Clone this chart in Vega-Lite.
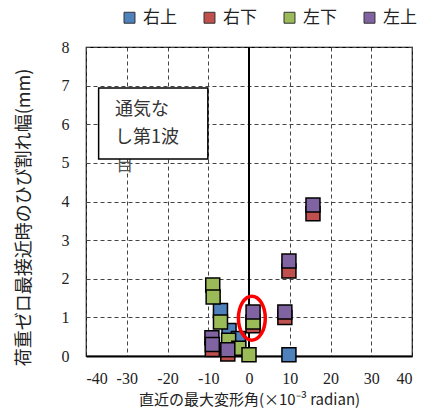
{
  "$schema": "https://vega.github.io/schema/vega-lite/v6.json",
  "width": 326,
  "height": 309,
  "autosize": {"type": "none"},
  "padding": {"left": 86, "top": 47, "right": 15, "bottom": 64},
  "background": "white",
  "datasets": {
    "pts": [
      {"dir": "右上", "ord": 1, "angle": 9.8, "width": 0.03},
      {"dir": "右上", "ord": 1, "angle": -7.0, "width": 1.18},
      {"dir": "右上", "ord": 1, "angle": -4.9, "width": 0.66},
      {"dir": "右上", "ord": 1, "angle": -2.6, "width": 0.45},
      {"dir": "右下", "ord": 2, "angle": 15.7, "width": 3.68},
      {"dir": "右下", "ord": 2, "angle": 9.8, "width": 2.2},
      {"dir": "右下", "ord": 2, "angle": 8.8, "width": 1.0},
      {"dir": "右下", "ord": 2, "angle": 1.0, "width": 0.78},
      {"dir": "右下", "ord": 2, "angle": -9.0, "width": 0.17},
      {"dir": "右下", "ord": 2, "angle": -5.2, "width": 0.05},
      {"dir": "左下", "ord": 3, "angle": -8.9, "width": 1.84},
      {"dir": "左下", "ord": 3, "angle": -8.8, "width": 1.53},
      {"dir": "左下", "ord": 3, "angle": -7.0, "width": 0.88},
      {"dir": "左下", "ord": 3, "angle": -5.0, "width": 0.41},
      {"dir": "左下", "ord": 3, "angle": -2.5, "width": 0.2},
      {"dir": "左下", "ord": 3, "angle": 0.0, "width": 0.03},
      {"dir": "左下", "ord": 3, "angle": 1.0, "width": 0.88},
      {"dir": "左上", "ord": 4, "angle": 15.7, "width": 3.91},
      {"dir": "左上", "ord": 4, "angle": 9.8, "width": 2.46},
      {"dir": "左上", "ord": 4, "angle": 8.8, "width": 1.14},
      {"dir": "左上", "ord": 4, "angle": 1.0, "width": 1.14},
      {"dir": "左上", "ord": 4, "angle": -9.1, "width": 0.47},
      {"dir": "左上", "ord": 4, "angle": -9.0, "width": 0.3},
      {"dir": "左上", "ord": 4, "angle": -5.2, "width": 0.16}
    ]
  },
  "config": {
    "view": {"stroke": "black", "strokeWidth": 1.2},
    "legend": {
      "orient": "none",
      "direction": "horizontal",
      "legendX": 35,
      "legendY": -38,
      "padding": 0,
      "title": null,
      "symbolType": "square",
      "symbolSize": 120,
      "symbolStrokeColor": "#333",
      "symbolStrokeWidth": 1,
      "labelFont": "Noto Sans CJK JP",
      "labelFontSize": 17,
      "labelColor": "#222",
      "labelOffset": 5,
      "columnPadding": 24
    }
  },
  "encoding": {
    "x": {
      "field": "angle", "type": "quantitative",
      "scale": {"domain": [-40, 40], "nice": false},
      "axis": {
        "values": [-40, -30, -20, -10, 0, 10, 20, 30, 40],
        "labelExpr": "'' + datum.value",
        "title": "直近の最大変形角(×10⁻³ radian)",
        "grid": true, "gridColor": "#444", "gridDash": [4, 3], "gridWidth": 1,
        "domain": true, "domainColor": "black", "domainWidth": 2, "ticks": false,
        "labelFont": "serif", "labelFontSize": 16, "labelColor": "#222", "labelPadding": 14,
        "titleFont": "Noto Sans CJK JP", "titleFontSize": 15, "titleFontWeight": "normal", "titleColor": "#222", "titlePadding": 6
      }
    },
    "y": {
      "field": "width", "type": "quantitative",
      "scale": {"domain": [0, 8], "nice": false},
      "axis": {
        "values": [0, 1, 2, 3, 4, 5, 6, 7, 8],
        "title": "荷重ゼロ最接近時のひび割れ幅(mm)",
        "grid": true, "gridColor": "#444", "gridDash": [4, 3], "gridWidth": 1,
        "domain": false, "ticks": false,
        "labelFont": "serif", "labelFontSize": 16, "labelColor": "#222", "labelPadding": 17,
        "titleFont": "Noto Sans CJK JP", "titleFontSize": 18, "titleFontWeight": "normal", "titleColor": "#222", "titlePadding": 28,
        "titleY": 170
      }
    }
  },
  "layer": [
    {
      "data": {"values": [{"angle": 0, "width": 0, "width2": 8}]},
      "mark": {"type": "rule", "color": "black", "strokeWidth": 2},
      "encoding": {"y2": {"field": "width2"}}
    },
    {
      "data": {"name": "pts"},
      "mark": {"type": "point", "shape": "square", "filled": true, "size": 196, "stroke": "black", "strokeWidth": 1.5, "opacity": 1},
      "encoding": {
        "color": {"field": "dir", "type": "nominal", "scale": {"domain": ["右上", "右下", "左下", "左上"], "range": ["#4F81BD", "#C0504D", "#9BBB59", "#8064A2"]}},
        "order": {"field": "ord", "type": "quantitative"}
      }
    },
    {
      "data": {"values": [{"angle": 0.7, "width": 0.98}]},
      "mark": {"type": "point", "shape": "M0,-1 A0.61,1 0 1,1 0,1 A0.61,1 0 1,1 0,-1 Z", "filled": false, "size": 1936, "stroke": "#FF0000", "strokeWidth": 3.5, "opacity": 1},
      "encoding": {}
    },
    {
      "data": {"values": [{"angle": -32.6, "width": 4.92, "t": "目"}]},
      "mark": {"type": "text", "align": "left", "baseline": "middle", "font": "Noto Sans CJK JP", "fontSize": 17, "color": "#555"},
      "encoding": {"text": {"field": "t"}}
    },
    {
      "data": {"values": [{"angle": -36.9, "angle2": -10.1, "width": 6.94, "width2": 5.1}]},
      "mark": {"type": "rect", "fill": "white", "stroke": "black", "strokeWidth": 1.5},
      "encoding": {"x2": {"field": "angle2"}, "y2": {"field": "width2"}}
    },
    {
      "data": {"values": [{"angle": -32.9, "width": 6.37, "t": "通気な"}, {"angle": -32.9, "width": 5.65, "t": "し第1波"}]},
      "mark": {"type": "text", "align": "left", "baseline": "middle", "font": "Noto Sans CJK JP", "fontSize": 18, "color": "#333"},
      "encoding": {"text": {"field": "t"}}
    }
  ]
}
